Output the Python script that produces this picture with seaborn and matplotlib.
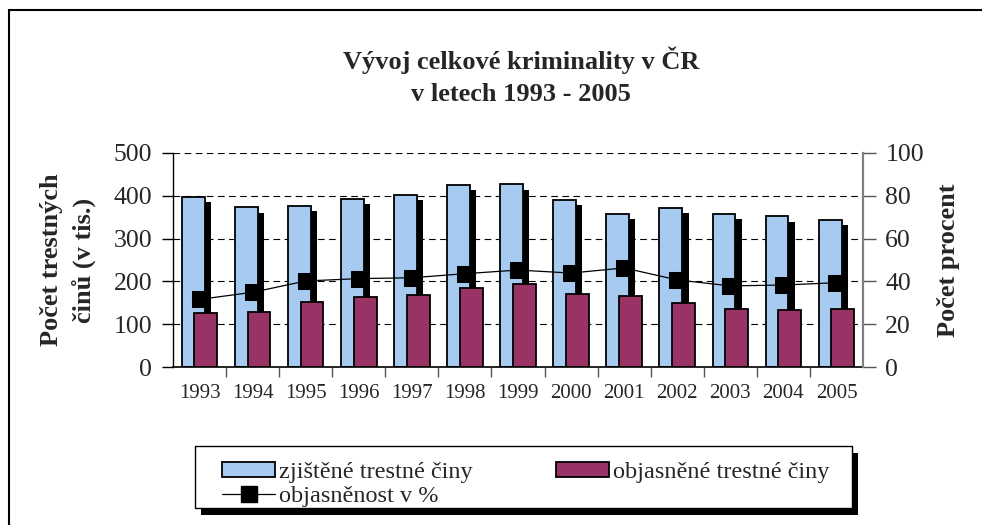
import numpy as np
import pandas as pd
import seaborn as sns
import matplotlib.pyplot as plt
from matplotlib import patheffects
from matplotlib.patches import Patch, Rectangle
from matplotlib.lines import Line2D

# data
roky = [1993, 1994, 1995, 1996, 1997, 1998, 1999, 2000, 2001, 2002, 2003, 2004, 2005]
zjistene = [398, 373, 376, 393, 402, 425, 427, 390, 358, 371, 358, 352, 344]
objasnene = [126, 129, 152, 163, 169, 185, 194, 171, 167, 150, 135, 133, 135]
procent = [31.6, 34.9, 40.2, 41.3, 41.7, 43.6, 45.3, 43.9, 46.3, 40.7, 37.9, 38.3, 39.4]

modra = '#A6CAF0'
vinova = '#993366'

sns.set_theme(style='white')
plt.rcParams['font.family'] = ['Liberation Serif', 'DejaVu Serif']

W, H = 982, 525
fig = plt.figure(figsize=(W / 100, H / 100), dpi=100)
ax = fig.add_axes([173 / W, 1 - 367 / H, (863 - 173) / W, (367 - 153) / H])

x = np.array(roky, dtype=float)
df = pd.DataFrame({'rok': x, 'zjistene': zjistene, 'objasnene': objasnene, 'procent': procent})

# light blue bars with black drop shadow
sns.barplot(x=df['rok'] - 0.12, y=df['zjistene'], native_scale=True, width=0.43,
            color=modra, saturation=1, edgecolor='black', linewidth=1.3,
            errorbar=None, ax=ax, zorder=2)
for p in ax.patches:
    p.set_path_effects([patheffects.SimplePatchShadow(offset=(4.5, -3.8), shadow_rgbFace='black', alpha=1),
                        patheffects.Normal()])
sns.barplot(x=df['rok'] + 0.12, y=df['objasnene'], native_scale=True, width=0.43,
            color=vinova, saturation=1, edgecolor='black', linewidth=1.3,
            errorbar=None, ax=ax, zorder=3)

ax.set_xlim(1992.5, 2005.5)
ax.set_ylim(0, 500)
ax.set_yticks(range(0, 501, 100))
ax.set_xticks(roky)
ax.set_xticklabels([str(r) for r in roky], fontsize=15)
ax.set_xticks(np.arange(1993.5, 2005, 1.0), minor=True)
ax.tick_params(axis='x', which='major', length=0, pad=12)
ax.tick_params(axis='x', which='minor', length=7, width=1, color='#555555', direction='out', bottom=True)
ax.tick_params(axis='y', labelsize=18.5, length=8, width=1, color='black', direction='out', left=True, pad=7)
ax.set_xlabel('')
ax.set_ylabel('')
ax.set_axisbelow(True)
ax.yaxis.grid(True, color='black', linestyle=(0, (6, 4)), linewidth=0.8)
for s in ['top', 'right']:
    ax.spines[s].set_visible(False)
ax.spines['left'].set_color('black')
ax.spines['bottom'].set_color('black')
ax.spines['left'].set_linewidth(1)
ax.spines['bottom'].set_linewidth(1.2)

# percent line on the right axis
ax2 = ax.twinx()
sns.lineplot(x=df['rok'], y=df['procent'], ax=ax2, color='black', linewidth=0.9,
             marker='s', markersize=12, markeredgecolor='black', markerfacecolor='black')
ax2.set_ylim(0, 100)
ax2.set_yticks(range(0, 101, 20))
ax2.set_ylabel('')
ax2.set_xlabel('')
ax2.set_xlim(1992.5, 2005.5)
ax2.tick_params(axis='y', labelsize=18.5, length=9, width=1, color='#555555', direction='out', right=True, pad=7)
for s in ['top', 'left', 'bottom']:
    ax2.spines[s].set_visible(False)
ax2.spines['right'].set_color('#808080')
ax2.spines['right'].set_linewidth(1.6)

# texts
fig.text(521 / W, 1 - 76 / H, 'Vývoj celkové kriminality v ČR\nv letech 1993 - 2005',
         ha='center', va='center', fontsize=19, fontweight='bold', linespacing=1.5)
fig.text(68 / W, 1 - 260 / H, 'Počet trestných\nčinů (v tis.)', rotation=90, ha='center', va='center',
         fontsize=19, fontweight='bold', multialignment='center', linespacing=1.5)
fig.text(948 / W, 1 - 260 / H, 'Počet procent', rotation=90, ha='center', va='center',
         fontsize=19, fontweight='bold')

# legend box with shadow drawn by hand, entries placed inside
fig.patches.append(Rectangle((201 / W, 1 - 515 / H), (852 - 195) / W, (508 - 446) / H,
                             transform=fig.transFigure, facecolor='black', edgecolor='none', zorder=4))
fig.patches.append(Rectangle((195 / W, 1 - 508 / H), (852 - 195) / W, (508 - 446) / H,
                             transform=fig.transFigure, facecolor='white', edgecolor='black',
                             linewidth=1, zorder=4.5))
handles = [Patch(facecolor=modra, edgecolor='black', linewidth=1.3),
           Line2D([], [], color='black', linewidth=0.9, marker='s', markersize=11),
           Patch(facecolor=vinova, edgecolor='black', linewidth=1.3)]
labels = ['zjištěné trestné činy', 'objasněnost v %', 'objasněné trestné činy']
leg = fig.legend(handles, labels, ncol=2, mode='expand',
                 bbox_to_anchor=(222 / W, 1 - 507 / H, (829 - 222) / W, (507 - 451) / H),
                 loc='lower left', fontsize=17.5, frameon=False, handlelength=2.2, handleheight=0.6,
                 handletextpad=0.15, labelspacing=0.1, borderpad=0, borderaxespad=0,
                 columnspacing=1.0)
leg.set_zorder(6)

# outer frame of the chart
fig.patches.append(Rectangle((9 / W, -0.1), 1.2, 1 - 10 / H + 0.1, transform=fig.transFigure,
                             fill=False, edgecolor='black', linewidth=1.5, zorder=10))

fig.savefig('out.png', dpi=100)
